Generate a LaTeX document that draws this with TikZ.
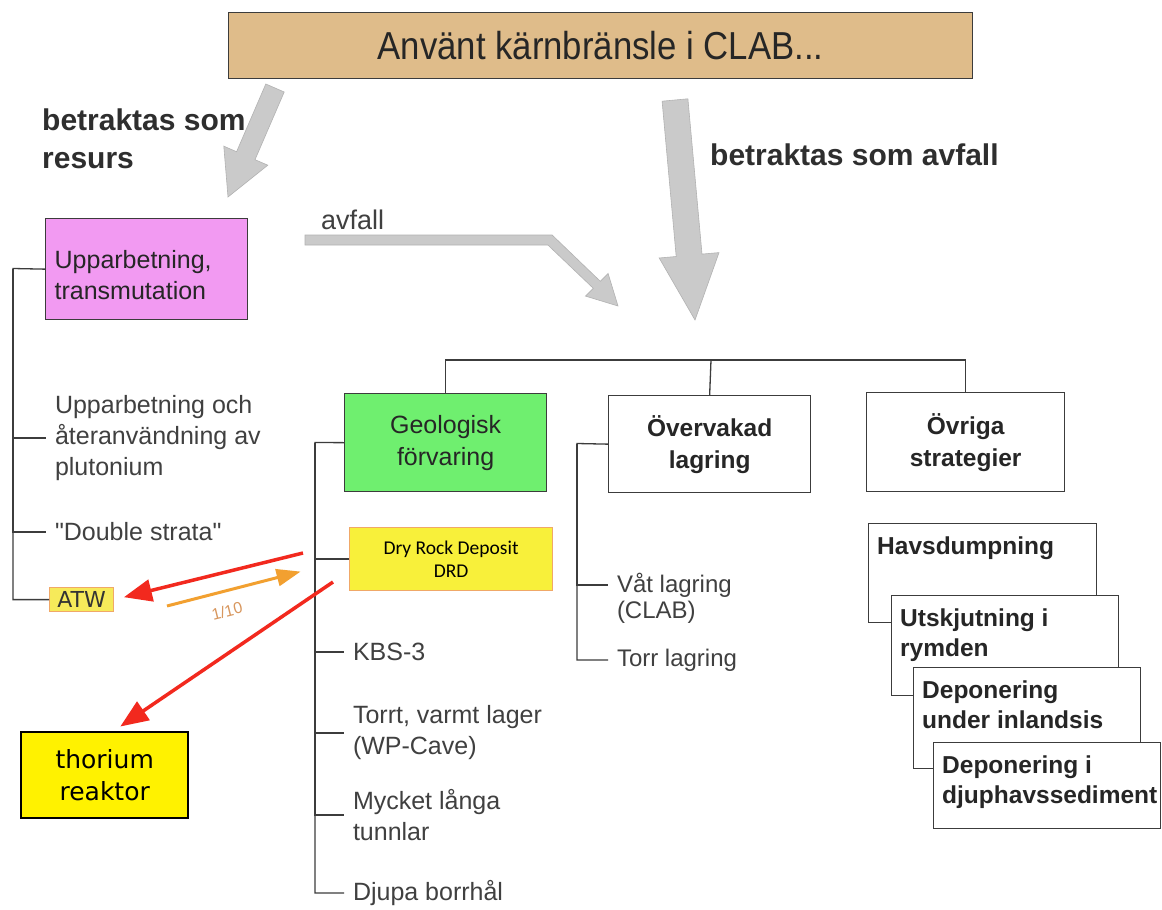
\documentclass[tikz,border=0pt]{standalone}
\usepackage{fontspec}
\setmainfont{Liberation Sans}
\newfontfamily\titlefont[FakeStretch=0.89]{Liberation Sans}
\newfontfamily\quotefont[Ligatures=TeXOff]{Liberation Sans}
\newfontfamily\drdfont{Carlito}
\newfontfamily\lucfont{DejaVu Sans}
\usepackage{tikz}
\usetikzlibrary{positioning,arrows.meta}

\definecolor{linegray}{HTML}{3C3C3C}
\definecolor{tanbox}{HTML}{DFBC8A}
\definecolor{pinkbox}{HTML}{F29AF2}
\definecolor{greenbox}{HTML}{6FEF6F}
\definecolor{drdyellow}{HTML}{F8F03A}
\definecolor{atwyellow}{HTML}{F6EA5A}
\definecolor{orangeline}{HTML}{F0A868}
\definecolor{redarrow}{HTML}{F2291E}
\definecolor{orangearrow}{HTML}{F2A030}
\definecolor{graybig}{HTML}{CACACA}

\newcommand{\txtreg}{\fontsize{25}{31}\selectfont}
\newcommand{\txthead}{\bfseries\fontsize{30}{38}\selectfont}
\newcommand{\txtbold}{\bfseries\fontsize{24.5}{32}\selectfont}
\newcommand{\txtstack}{\bfseries\fontsize{24.5}{30}\selectfont}

\begin{document}
\begin{tikzpicture}[x=1pt, y=-1pt,
        every node/.style = {inner sep=0pt, text=black!75},
        treeline/.style   = {draw=linegray, line width=1.3pt},
        titlebox/.style   = {anchor=north west, draw=linegray, line width=1.3pt,
                             fill=tanbox, minimum width=744pt, minimum height=66pt,
                             text=black!85, font=\titlefont\fontsize{39}{44}\selectfont},
        headtext/.style   = {anchor=west, align=left, text=black!82, font=\txthead},
        leftbox/.style    = {anchor=north west, draw=linegray, line width=1.3pt,
                             minimum width=202pt, minimum height=101pt,
                             text width=184pt, align=left, text=black!85, font=\txtreg},
        branchbox/.style  = {anchor=north west, draw=linegray, line width=1.3pt,
                             minimum width=202pt, minimum height=98pt,
                             align=center, text=black!85, font=\txtbold},
        leaf/.style       = {anchor=west, align=left, outer xsep=9pt, font=\txtreg},
        drdbox/.style     = {anchor=north west, draw=orangeline, line width=1.2pt,
                             fill=drdyellow, minimum width=203pt, minimum height=63pt,
                             align=center, text=black,
                             font=\drdfont\fontsize{19.5}{23}\selectfont},
        atwbox/.style     = {anchor=north west, draw=orangeline, line width=1.2pt,
                             fill=atwyellow, minimum width=64pt, minimum height=24pt,
                             text=black!80, font=\lucfont\fontsize{22}{24}\selectfont},
        thbox/.style      = {anchor=north west, draw=black, line width=2.4pt,
                             fill=yellow, minimum width=167pt, minimum height=86pt,
                             align=center, text=black,
                             font=\lucfont\fontsize{25}{32}\selectfont},
        stackbox/.style   = {anchor=north west, draw=linegray, line width=1.3pt,
                             fill=white, minimum width=227pt},
        stacktext/.style  = {anchor=north west, align=left, inner xsep=9pt,
                             inner ysep=14pt, text=black!85, font=\txtstack},
        bigarrow/.style   = {fill=graybig, draw=gray!60, line width=0.6pt},
        redarr/.style     = {draw=redarrow, line width=3.5pt,
                             -{Triangle[length=28pt, width=22pt]}},
        orarr/.style      = {draw=orangearrow, line width=3pt,
                             -{Triangle[length=24pt, width=17pt]}}]

    \fill[white] (0,0) rectangle (1162,910);
    \useasboundingbox (0,0) rectangle (1162,910);

    % title and the two ways
    \node[titlebox] (title) at (228,12) {Använt kärnbränsle i CLAB...};
    \node[headtext] (resurs) at (42,139) {betraktas som\\resurs};
    \node[headtext] (avfallhead) at (710,155) {betraktas som avfall};
    \node[anchor=west, font=\fontsize{27}{32}\selectfont] (avfall) at (321,220) {avfall};

    % gray arrows
    \filldraw[bigarrow] (265.8,84.0) -- (284.2,92.0) -- (255.0,159.7) -- (267.8,165.2)
        -- (228,197) -- (223.8,146.2) -- (236.6,151.7) -- cycle;
    \filldraw[bigarrow] (662.1,101.2) -- (687.9,98.8) -- (702.0,254.1) -- (719.0,252.6)
        -- (695,320) -- (659.2,258.0) -- (676.2,256.5) -- cycle;
    \filldraw[bigarrow] (305,235) -- (552.1,235) -- (600.3,281.3) -- (608.1,273.5)
        -- (618,306) -- (585.5,296.1) -- (593.3,288.3) -- (547.9,245) -- (305,245) -- cycle;

    % resource branch
    \node[leftbox, fill=pinkbox] (upp) at (45,218) {\rule{0pt}{30pt}Upparbetning,\\transmutation};
    \node[leaf] (upoch) at (46,438) {Upparbetning och\\återanvändning av\\plutonium};
    \node[leaf, font=\quotefont\txtreg] (dstrata) at (46,532) {"Double strata"};
    \node[atwbox] (atw) at (49,587) {ATW};
    \coordinate (lspine) at (13,268.5);
    \draw[treeline] (upp.west) -- (lspine) |- (atw.west);
    \draw[treeline] (lspine) |- (upoch.west);
    \draw[treeline] (lspine) |- (dstrata.west);

    % waste branch
    \node[branchbox, fill=greenbox, font=\fontsize{25}{32}\selectfont] (geo) at (344,393) {Geologisk\\förvaring};
    \node[branchbox, minimum height=97pt] (overv) at (608,395) {Övervakad\\lagring};
    \node[branchbox, minimum width=198pt, minimum height=99pt] (ovr) at (866,392) {Övriga\\strategier};
    \coordinate (bus) at (711,360);
    \draw[treeline] (geo.north) |- (bus) -| (ovr.north);
    \draw[treeline] (bus) -- (overv.north);

    % geological disposal
    \node[drdbox] (drd) at (349,527) {Dry Rock Deposit\\DRD};
    \node[leaf] (kbs) at (344,652) {KBS-3};
    \node[leaf] (torrt) at (344,733) {Torrt, varmt lager\\(WP-Cave)};
    \node[leaf] (mycket) at (344,815) {Mycket långa\\tunnlar};
    \node[leaf] (djupa) at (344,893) {Djupa borrhål};
    \coordinate (gspine) at (315,442.5);
    \draw[treeline] (geo.west) -- (gspine) |- (djupa.west);
    \foreach \leafname in {drd, kbs, torrt, mycket}
        \draw[treeline] (gspine) |- (\leafname.west);

    % monitored storage
    \node[leaf, font=\fontsize{24}{26}\selectfont] (vat) at (608,598) {Våt lagring\\(CLAB)};
    \node[leaf, font=\fontsize{24}{26}\selectfont] (torr) at (608,660) {Torr lagring};
    \coordinate (ospine) at (577,443.5);
    \draw[treeline] (overv.west) -- (ospine) |- (torr.west);
    \draw[treeline] (ospine) |- ([yshift=13pt]vat.west);

    % other strategies
    \node[stackbox, minimum width=228pt, minimum height=99pt,
          label={[stacktext]north west:Havsdumpning}] (s1) at (868,523) {};
    \node[stackbox, minimum height=100pt,
          label={[stacktext]north west:{Utskjutning i\\rymden}}] (s2)
          at ([xshift=23pt, yshift=-72pt]s1.north west) {};
    \node[stackbox, minimum height=101pt,
          label={[stacktext]north west:{Deponering\\under inlandsis}}] (s3)
          at ([xshift=22pt, yshift=-72pt]s2.north west) {};
    \node[stackbox, minimum height=86pt,
          label={[stacktext]north west:{Deponering i\\djuphavssediment}}] (s4)
          at ([xshift=20pt, yshift=-75pt]s3.north west) {};

    % thorium and the DRD arrows
    \node[thbox] (thor) at (20,731) {thorium\\reaktor};
    \coordinate (redstart) at (303,553);
    \coordinate (thstart) at (333,582);
    \coordinate (orstart) at (167,606);
    \draw[redarr, shorten >=10pt] (redstart) -- (atw.east);
    \draw[redarr, shorten >=8pt] (thstart) -- ([xshift=9pt]thor.north);
    \draw[orarr, shorten >=50pt] (orstart) -- (drd.west);
    \node[rotate=14, text=orangeline!90!black, font=\fontsize{16}{18}\selectfont] (ratio) at (227,611) {1/10};

\end{tikzpicture}
\end{document}
